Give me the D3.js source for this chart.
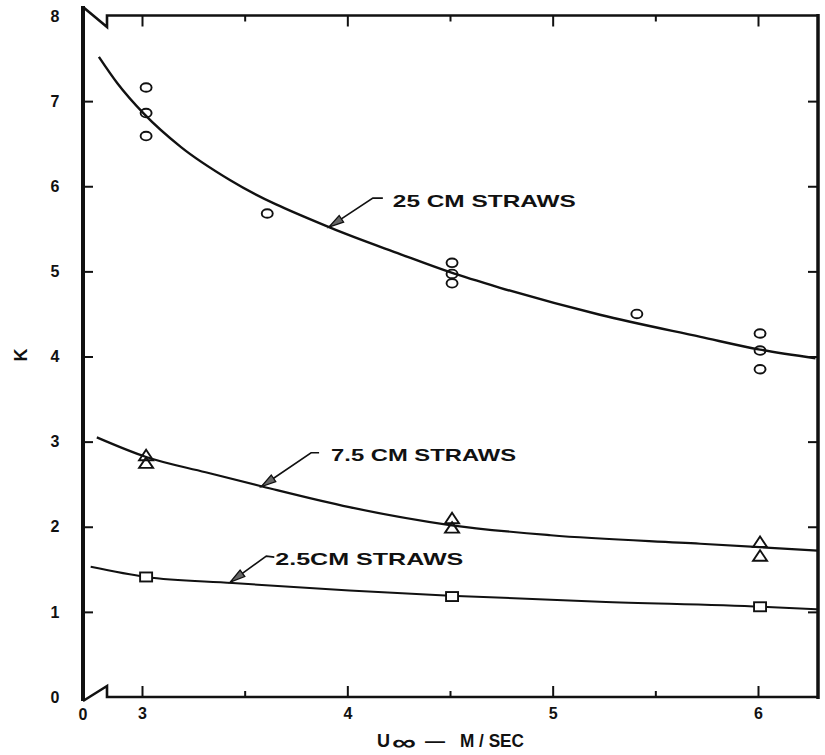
<!DOCTYPE html>
<html>
<head>
<meta charset="utf-8">
<script src="https://cdn.jsdelivr.net/npm/d3@7/dist/d3.min.js"></script>
<style>
  body { margin: 0; background: #fff; }
  svg { display: block; }
  text { font-family: "Liberation Sans", Arial, sans-serif; font-weight: bold; fill: #111; }
</style>
</head>
<body>
<svg id="chart" width="825" height="755"></svg>
<script>
// ---- axis ticks ----
const yTicks = [0, 1, 2, 3, 4, 5, 6, 7, 8];
const xMajorTicks = [3, 4, 5, 6];
const xMinorTicks = [3.5, 4.5, 5.5];

// ---- fitted curves (U in m/s, K) ----
const curve25U = [2.79, 2.88, 3.01, 3.19, 3.43, 3.92, 4.26, 4.50, 4.74, 5.23, 5.72, 6.01, 6.28];
const curve25K = [7.52, 7.21, 6.85, 6.46, 6.07, 5.51, 5.20, 4.99, 4.81, 4.49, 4.23, 4.08, 3.98];

const curve75U = [2.78, 3.02, 3.31, 3.59, 4.01, 4.50, 4.99, 5.72, 6.29];
const curve75K = [3.05, 2.82, 2.64, 2.47, 2.23, 2.02, 1.90, 1.80, 1.72];

const curve25cmU = [2.75, 3.02, 3.44, 4.01, 4.50, 5.23, 6.02, 6.29];
const curve25cmK = [1.53, 1.41, 1.34, 1.25, 1.19, 1.12, 1.06, 1.03];

// ---- measured points ----
const circleU = [3.02, 3.02, 3.02, 3.61, 4.51, 4.51, 4.51, 5.41, 6.01, 6.01, 6.01];
const circleK = [7.16, 6.86, 6.59, 5.68, 5.10, 4.97, 4.86, 4.50, 4.27, 4.07, 3.85];

const triangleU = [3.02, 3.02, 4.51, 4.51, 6.01, 6.01];
const triangleK = [2.84, 2.75, 2.10, 1.99, 1.82, 1.66];

const squareU = [3.02, 4.51, 6.01];
const squareK = [1.41, 1.18, 1.06];

// ---- curve labels: text and the point on the curve the arrow touches ----
const labelText = ["25 CM STRAWS", "7.5 CM STRAWS", "2.5CM STRAWS"];
const labelTipU = [3.91, 3.58, 3.43];
const labelTipK = [5.52, 2.47, 1.35];

const svg = d3.select("#chart");

const x = d3.scaleLinear().domain([3, 6]).range([142, 758]);
const y = d3.scaleLinear().domain([0, 8]).range([697, 16]);

const xLeft = 83, xRight = 818, yTop = 15.5, yBottom = 697;

// ---- tick marks (all pointing inward) ----
const gLeft = svg.append("g").attr("transform", `translate(${xLeft},0)`)
  .call(d3.axisLeft(y).tickValues(yTicks).tickSize(-10).tickPadding(22).tickFormat(d3.format("d")));
const gRight = svg.append("g").attr("transform", `translate(${xRight},0)`)
  .call(d3.axisRight(y).tickValues(yTicks.filter(d => d > 0 && d < 8)).tickSize(-10).tickFormat(""));
const gBottom = svg.append("g").attr("transform", `translate(0,${yBottom})`)
  .call(d3.axisBottom(x).tickValues(xMajorTicks).tickSize(-11).tickPadding(11).tickFormat(d3.format("d")));
const gBottomMinor = svg.append("g").attr("transform", `translate(0,${yBottom})`)
  .call(d3.axisBottom(x).tickValues(xMinorTicks).tickSize(-6).tickFormat(""));
const gTop = svg.append("g").attr("transform", `translate(0,${yTop})`)
  .call(d3.axisTop(x).tickValues(xMajorTicks).tickSize(-11).tickFormat(""));
const gTopMinor = svg.append("g").attr("transform", `translate(0,${yTop})`)
  .call(d3.axisTop(x).tickValues(xMinorTicks).tickSize(-6).tickFormat(""));

[gLeft, gRight, gBottom, gBottomMinor, gTop, gTopMinor].forEach(g => {
  g.attr("font-size", null).attr("font-family", null);
  g.select(".domain").remove();
  g.selectAll(".tick line").attr("stroke", "#111").attr("stroke-width", 2);
  g.selectAll(".tick text").attr("fill", "#111").style("font-size", "16px")
    .style("font-family", "'Liberation Sans', Arial, sans-serif").style("font-weight", "bold");
});
gLeft.selectAll(".tick").filter(d => d === 0 || d === 8).select("line").remove();
gLeft.selectAll(".tick text").attr("text-anchor", "middle").attr("x", -28);

// ---- frame with broken-axis zigzags ----
svg.append("line").attr("x1", xLeft).attr("x2", xLeft).attr("y1", 6).attr("y2", 701)
  .attr("stroke", "#111").attr("stroke-width", 4);
svg.append("line").attr("x1", xRight).attr("x2", xRight).attr("y1", 14).attr("y2", 699)
  .attr("stroke", "#111").attr("stroke-width", 3.5);
svg.append("path")
  .attr("d", `M${xLeft},7 L107,27 L107,${yTop} L${xRight},${yTop}`)
  .attr("fill", "none").attr("stroke", "#111").attr("stroke-width", 2.6).attr("stroke-linejoin", "miter");
svg.append("path")
  .attr("d", `M${xLeft},701 L107,686 L107,${yBottom} L${xRight},${yBottom}`)
  .attr("fill", "none").attr("stroke", "#111").attr("stroke-width", 2.6).attr("stroke-linejoin", "miter");

// origin label of the broken U axis
svg.append("text").attr("x", xLeft).attr("y", 720).attr("text-anchor", "middle")
  .style("font-size", "16px").text("0");

// ---- axis titles ----
svg.append("text").attr("transform", "translate(27,355) rotate(-90)")
  .attr("text-anchor", "middle").style("font-size", "18px").text("K");

const xt = svg.append("text").attr("y", 747).style("font-size", "18px");
xt.append("tspan").attr("x", 377).text("U");
xt.append("tspan").attr("x", 392).attr("dy", 3).style("font-size", "22px")
  .attr("textLength", 24).attr("lengthAdjust", "spacingAndGlyphs").text("∞");
xt.append("tspan").attr("x", 425).attr("dy", -3)
  .attr("textLength", 20).attr("lengthAdjust", "spacingAndGlyphs").text("—");
xt.append("tspan").attr("x", 460).attr("textLength", 64).attr("lengthAdjust", "spacingAndGlyphs").text("M / SEC");

// ---- curves ----
const line = d3.line().x(d => x(d[0])).y(d => y(d[1])).curve(d3.curveMonotoneX);
const curves = [
  [curve25U, curve25K, 2.4],
  [curve75U, curve75K, 2.2],
  [curve25cmU, curve25cmK, 2.0]
];
curves.forEach(([us, ks, w]) => {
  svg.append("path").datum(d3.zip(us, ks)).attr("d", line)
    .attr("fill", "none").attr("stroke", "#111").attr("stroke-width", w);
});

// ---- markers ----
svg.append("g").selectAll("ellipse").data(d3.zip(circleU, circleK)).join("ellipse")
  .attr("cx", d => x(d[0])).attr("cy", d => y(d[1])).attr("rx", 5.5).attr("ry", 4.3)
  .attr("fill", "none").attr("stroke", "#111").attr("stroke-width", 1.9);

svg.append("g").selectAll("path").data(d3.zip(triangleU, triangleK)).join("path")
  .attr("transform", d => `translate(${x(d[0])},${y(d[1])})`)
  .attr("d", "M0,-5.5 L7,5 L-7,5 Z")
  .attr("fill", "none").attr("stroke", "#111").attr("stroke-width", 1.9).attr("stroke-linejoin", "miter");

svg.append("g").selectAll("rect").data(d3.zip(squareU, squareK)).join("rect")
  .attr("x", d => x(d[0]) - 6).attr("y", d => y(d[1]) - 4.5).attr("width", 12).attr("height", 9)
  .attr("fill", "#fff").attr("stroke", "#111").attr("stroke-width", 1.9);

// ---- curve labels with leader arrows ----
// leader: offsets (px) from the arrow tip to the elbow and to the line end; text start and baseline
const leaders = [
  { elbow: [44, -29], end: [54, -29], text: [64, -20], len: 183 },
  { elbow: [50, -34], end: [58, -34], text: [70, -26], len: 185 },
  { elbow: [36, -26], end: [44, -25], text: [45, -17], len: 188 }
];
labelText.forEach((t, i) => {
  const tx = x(labelTipU[i]), ty = y(labelTipK[i]);
  const L = leaders[i];
  const ex = tx + L.elbow[0], ey = ty + L.elbow[1];
  svg.append("path")
    .attr("d", `M${tx},${ty} L${ex},${ey} L${tx + L.end[0]},${ty + L.end[1]}`)
    .attr("fill", "none").attr("stroke", "#111").attr("stroke-width", 1.6);
  // arrowhead pointing at the curve
  const ang = Math.atan2(ey - ty, ex - tx);
  const hl = 15, hw = 4;
  const bx = tx + hl * Math.cos(ang), by = ty + hl * Math.sin(ang);
  const px = -Math.sin(ang) * hw, py = Math.cos(ang) * hw;
  svg.append("path")
    .attr("d", `M${tx},${ty} L${bx + px},${by + py} L${bx - px},${by - py} Z`)
    .attr("fill", "#666").attr("stroke", "#111").attr("stroke-width", 1.3);
  svg.append("text").attr("x", tx + L.text[0]).attr("y", ty + L.text[1])
    .attr("textLength", L.len).attr("lengthAdjust", "spacingAndGlyphs")
    .style("font-size", "17px").text(t);
});
</script>
</body>
</html>
